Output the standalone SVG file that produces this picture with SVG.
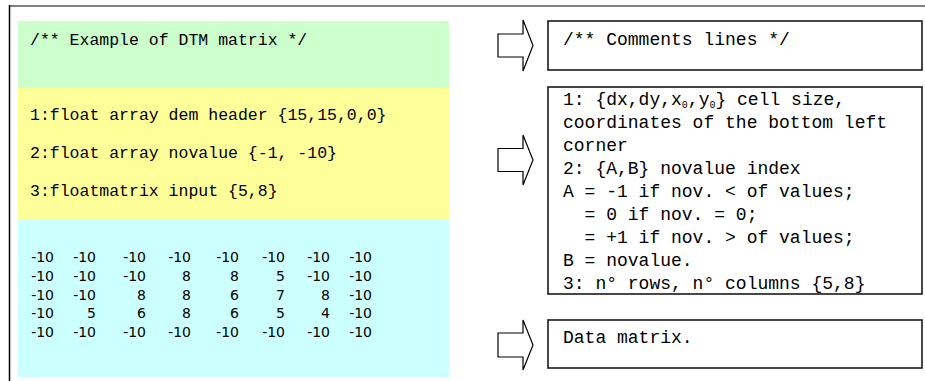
<svg xmlns="http://www.w3.org/2000/svg" width="925" height="381" viewBox="0 0 925 381">
<style>
.mono{font-family:"Liberation Mono","Courier New",monospace;fill:#000;white-space:pre}
.l{font-size:16.5px}
.r{font-size:18px}
.num{font-family:"DejaVu Sans","Liberation Sans",sans-serif;font-size:14px;fill:#000;text-anchor:end}
.box{fill:#fff;stroke:#1a1a1a;stroke-width:1.6}
.arrow{fill:#fff;stroke:#000;stroke-width:1.2;stroke-linejoin:miter}
</style>
<rect x="0" y="0" width="925" height="381" fill="#fff"/>
<line x1="9" y1="6" x2="925" y2="6" stroke="#808080" stroke-width="2"/>
<line x1="9.5" y1="5" x2="9.5" y2="381" stroke="#000" stroke-width="1.5"/>

<g id="panel-header">
<rect x="18" y="21" width="431" height="67" fill="#ccffcc"/>
<text class="mono l" x="30" y="45" xml:space="preserve">/** Example of DTM matrix */</text>
</g>
<g id="panel-params">
<rect x="18" y="88" width="431" height="132" fill="#ffff99"/>
<text class="mono l" x="30" y="120" xml:space="preserve">1:float array dem header {15,15,0,0}</text>
<text class="mono l" x="30" y="158" xml:space="preserve">2:float array novalue {-1, -10}</text>
<text class="mono l" x="30" y="196" xml:space="preserve">3:floatmatrix input {5,8}</text>
</g>
<g id="panel-matrix">
<rect x="18" y="220" width="431" height="157" fill="#ccffff"/>
<g class="num">
<text y="262"><tspan x="54">-10</tspan><tspan x="96">-10</tspan><tspan x="146">-10</tspan><tspan x="191">-10</tspan><tspan x="239">-10</tspan><tspan x="285">-10</tspan><tspan x="330">-10</tspan><tspan x="372">-10</tspan></text>
<text y="281"><tspan x="54">-10</tspan><tspan x="96">-10</tspan><tspan x="146">-10</tspan><tspan x="191">8</tspan><tspan x="239">8</tspan><tspan x="285">5</tspan><tspan x="330">-10</tspan><tspan x="372">-10</tspan></text>
<text y="299.5"><tspan x="54">-10</tspan><tspan x="96">-10</tspan><tspan x="146">8</tspan><tspan x="191">8</tspan><tspan x="239">6</tspan><tspan x="285">7</tspan><tspan x="330">8</tspan><tspan x="372">-10</tspan></text>
<text y="318"><tspan x="54">-10</tspan><tspan x="96">5</tspan><tspan x="146">6</tspan><tspan x="191">8</tspan><tspan x="239">6</tspan><tspan x="285">5</tspan><tspan x="330">4</tspan><tspan x="372">-10</tspan></text>
<text y="337"><tspan x="54">-10</tspan><tspan x="96">-10</tspan><tspan x="146">-10</tspan><tspan x="191">-10</tspan><tspan x="239">-10</tspan><tspan x="285">-10</tspan><tspan x="330">-10</tspan><tspan x="372">-10</tspan></text>
</g>
</g>

<g id="connectors">
<polygon class="arrow" points="498,34 523,34 523,20 533,45.5 523,71 523,57 498,57"/>
<polygon class="arrow" points="498,148.5 523,148.5 523,135 533,160 523,185 523,171.5 498,171.5"/>
<polygon class="arrow" points="498,333 523,333 523,320 533,345 523,370 523,357 498,357"/>
</g>

<g id="box-comments">
<rect class="box" x="548" y="21" width="374" height="49"/>
<text class="mono r" x="563" y="45" xml:space="preserve">/** Comments lines */</text>
</g>
<g id="box-params">
<rect class="box" x="548" y="87" width="374" height="207"/>
<text class="mono r" x="563" y="105" xml:space="preserve">1: {dx,dy,x<tspan font-size="10" dy="3">0</tspan><tspan dy="-3">,y</tspan><tspan font-size="10" dy="3">0</tspan><tspan dy="-3">} cell size,</tspan></text>
<text class="mono r" x="563" y="128" xml:space="preserve">coordinates of the bottom left</text>
<text class="mono r" x="563" y="151" xml:space="preserve">corner</text>
<text class="mono r" x="563" y="174" xml:space="preserve">2: {A,B} novalue index</text>
<text class="mono r" x="563" y="197" xml:space="preserve">A = -1 if nov. &lt; of values;</text>
<text class="mono r" x="563" y="220" xml:space="preserve">  = 0 if nov. = 0;</text>
<text class="mono r" x="563" y="243" xml:space="preserve">  = +1 if nov. &gt; of values;</text>
<text class="mono r" x="563" y="266" xml:space="preserve">B = novalue.</text>
<text class="mono r" x="563" y="289" xml:space="preserve">3: n° rows, n° columns {5,8}</text>
</g>
<g id="box-data">
<rect class="box" x="548" y="320" width="374" height="48"/>
<text class="mono r" x="563" y="343" xml:space="preserve">Data matrix.</text>
</g>
</svg>
